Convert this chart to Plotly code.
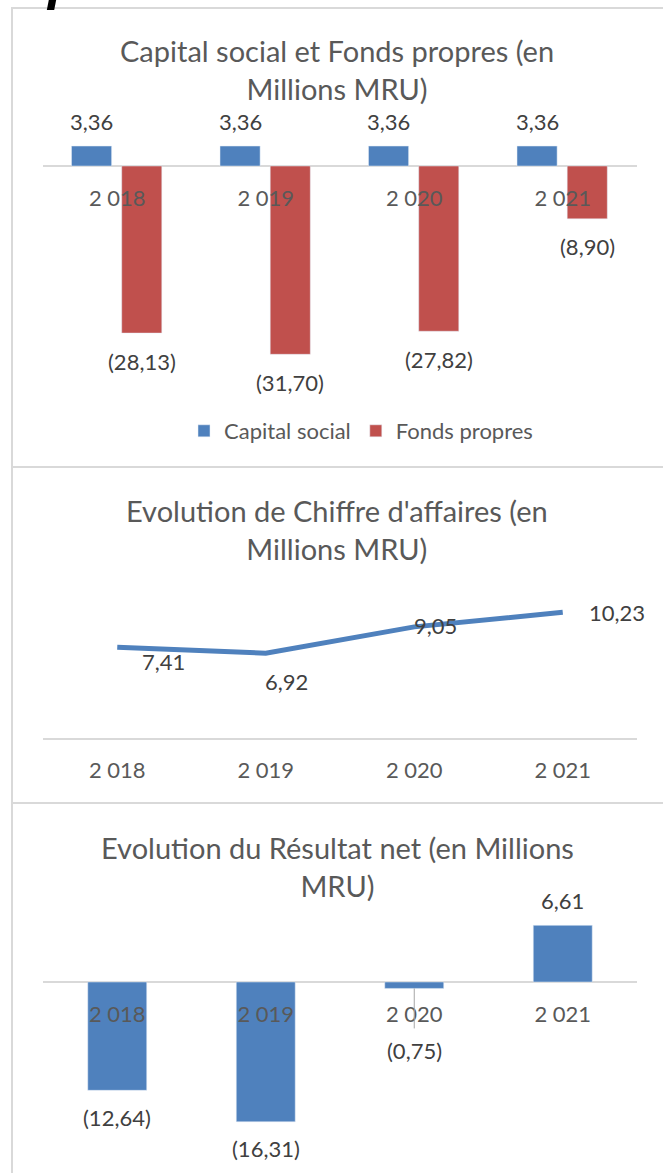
import plotly.graph_objects as go

# ---------------- data ----------------
years = ["2 018", "2 019", "2 020", "2 021"]
capital_social = [3.36, 3.36, 3.36, 3.36]
fonds_propres = [-28.13, -31.70, -27.82, -8.90]
chiffre_affaires = [7.41, 6.92, 9.05, 10.23]
resultat_net = [-12.64, -16.31, -0.75, 6.61]

title_1 = "Capital social et Fonds propres (en<br>Millions MRU)"
title_2 = "Evolution de Chiffre d'affaires (en<br>Millions MRU)"
title_3 = "Evolution du Résultat net (en Millions<br>MRU)"
legend_names = ["Capital social", "Fonds propres"]

# ---------------- styles ----------------
W, H = 663, 1173
FONT = "Lato"
BLUE = "#4F81BD"
RED = "#C0504D"
GRID = "#D9D9D9"
TITLE_C = "#595959"
LABEL_C = "#404040"
TITLE_SIZE = 29
LABEL_SIZE = 22
TICK_SIZE = 22


def py(p):
    return 1 - p / H


def px(p):
    return p / W


def fmt(v):
    s = f"{abs(v):.2f}".replace(".", ",")
    return f"({s})" if v < 0 else s


XDOM = [px(43), px(637)]

fig = go.Figure()

# Panel 1 : bars
W1 = 0.27
OFF_B, OFF_R = -0.308, 0.03
fig.add_trace(go.Bar(x=years, y=capital_social, name=legend_names[0], marker_color=BLUE,
                     width=W1, offset=OFF_B, xaxis="x", yaxis="y"))
fig.add_trace(go.Bar(x=years, y=fonds_propres, name=legend_names[1], marker_color=RED,
                     width=W1, offset=OFF_R, xaxis="x", yaxis="y"))

# Panel 2 : line
fig.add_trace(go.Scatter(x=years, y=chiffre_affaires, mode="lines", line=dict(color=BLUE, width=5),
                         showlegend=False, xaxis="x2", yaxis="y2"))

# Panel 3 : bars
W3 = 0.397
fig.add_trace(go.Bar(x=years, y=resultat_net, marker_color=BLUE, width=W3, offset=-W3 / 2,
                     showlegend=False, xaxis="x3", yaxis="y3"))

ann = []
# titles
for t, yc in [(title_1, 70), (title_2, 529), (title_3, 866)]:
    ann.append(dict(text=t, x=px(337), y=py(yc), xref="paper", yref="paper", showarrow=False,
                    xanchor="center", yanchor="middle", font=dict(family=FONT, size=TITLE_SIZE, color=TITLE_C)))

# panel 1 labels
for i, v in enumerate(capital_social):
    ann.append(dict(text=fmt(v), x=i + OFF_B + W1 / 2, y=v, xref="x", yref="y", showarrow=False,
                    yshift=25 if v >= 0 else -28, font=dict(family=FONT, size=LABEL_SIZE, color=LABEL_C)))
for i, v in enumerate(fonds_propres):
    ann.append(dict(text=fmt(v), x=i + OFF_R + W1 / 2, y=v, xref="x", yref="y", showarrow=False,
                    yshift=25 if v >= 0 else -28, font=dict(family=FONT, size=LABEL_SIZE, color=LABEL_C)))

# panel 2 labels
ca_dx = [46, 21, 21, 54]
ca_dy = [-14, -28, 1, 0]
for i, v in enumerate(chiffre_affaires):
    ann.append(dict(text=fmt(v), x=i, y=v, xref="x2", yref="y2", showarrow=False,
                    xshift=ca_dx[i], yshift=ca_dy[i], font=dict(family=FONT, size=LABEL_SIZE, color=LABEL_C)))

# panel 3 labels
for i, v in enumerate(resultat_net):
    if abs(v) < 2:
        ann.append(dict(text=fmt(v), x=i, y=v, xref="x3", yref="y3", showarrow=True, ax=0, ay=62,
                        arrowhead=0, arrowwidth=1, arrowcolor="#A6A6A6", startstandoff=7,
                        font=dict(family=FONT, size=LABEL_SIZE, color=LABEL_C)))
    else:
        ann.append(dict(text=fmt(v), x=i, y=v, xref="x3", yref="y3", showarrow=False,
                        yshift=25 if v >= 0 else -27, font=dict(family=FONT, size=LABEL_SIZE, color=LABEL_C)))

# partial heading fragment at the very top
ann.append(dict(text="<b><i>p</i></b>", x=px(63), y=py(-20), xref="paper", yref="paper", showarrow=False,
                xanchor="center", yanchor="middle", font=dict(family="Liberation Sans", size=54, color="black")))

shapes = []
for x0, y0, x1, y1 in [(12, 8, 12, H), (11, 8, W, 8), (11, 467, W, 467), (11, 803, W, 803)]:
    shapes.append(dict(type="line", xref="paper", yref="paper", x0=px(x0), x1=px(x1), y0=py(y0), y1=py(y1),
                       line=dict(color=GRID, width=2)))

xcommon = dict(domain=XDOM, type="category", range=[-0.5, 3.5], autorange=False, showgrid=False,
               zeroline=False, showline=False, ticks="",
               tickfont=dict(family=FONT, size=TICK_SIZE, color=TITLE_C), anchor="free")
ycommon = dict(showgrid=False, showticklabels=False, zeroline=True, zerolinecolor=GRID, zerolinewidth=2,
               showline=False, ticks="", autorange=False)

fig.update_layout(
    width=W, height=H, margin=dict(l=0, r=0, t=0, b=0),
    paper_bgcolor="white", plot_bgcolor="white",
    barmode="overlay",
    xaxis=dict(xcommon, position=py(183)),
    yaxis=dict(ycommon, domain=[py(400), py(100)], range=[-(400 - 166) / 5.94, (166 - 100) / 5.94]),
    xaxis2=dict(xcommon, position=py(755)),
    yaxis2=dict(ycommon, domain=[py(745), py(590)], range=[-(745 - 739) / 12.39, (739 - 590) / 12.39]),
    xaxis3=dict(xcommon, position=py(999)),
    yaxis3=dict(ycommon, domain=[py(1165), py(890)], range=[-(1165 - 982) / 8.57, (982 - 890) / 8.57]),
    legend=dict(orientation="h", x=px(184), y=py(431), xanchor="left", yanchor="middle",
                font=dict(family=FONT, size=LABEL_SIZE, color=TITLE_C), bgcolor="rgba(0,0,0,0)"),
    annotations=ann,
    shapes=shapes,
)

fig.write_html("out.html", config={"displayModeBar": False},
               post_script="document.body.style.margin='0';document.body.style.overflow='hidden';")
